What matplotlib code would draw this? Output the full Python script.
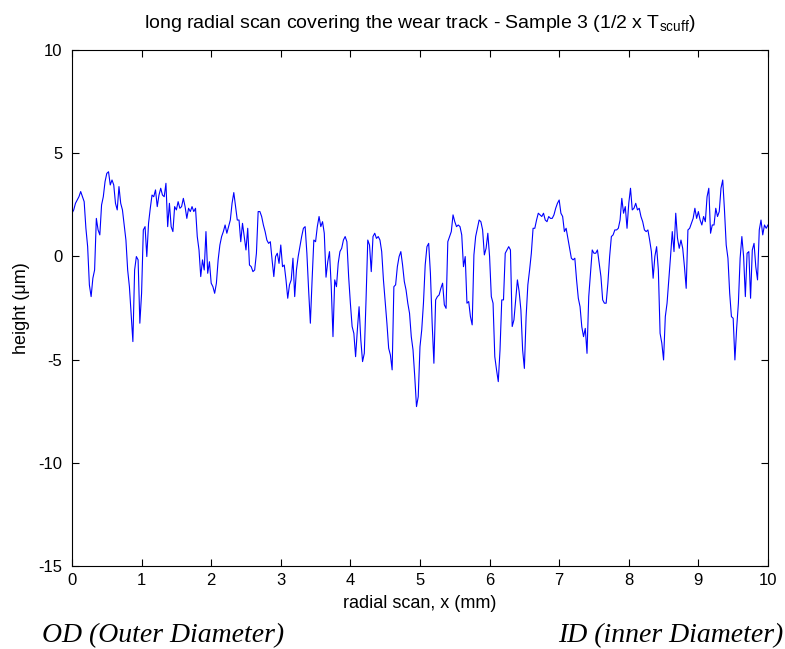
import numpy as np
import matplotlib
matplotlib.use("Agg")
import matplotlib.pyplot as plt

plt.rcParams['font.family'] = ['Liberation Sans', 'DejaVu Sans']
plt.rcParams['mathtext.fontset'] = 'custom'
plt.rcParams['mathtext.rm'] = 'Liberation Sans'
plt.rcParams['axes.unicode_minus'] = False

# profile heights (um), sampled every 0.025 mm from 0 to 10 mm
height_seg1 = [2.09, 2.25, 2.57, 2.73, 2.89, 3.14, 2.89, 2.65, 1.36, 0.47,
               -1.39, -1.95, -1.06, -0.66, 1.84, 1.28, 1.04, 2.49, 2.89, 3.62,
               4.02, 4.10, 3.46, 3.70, 3.46, 2.57, 2.25, 3.38, 2.57, 2.25,
               1.52, 0.79, -0.66, -1.47, -2.76, -4.13, -0.66, -0.01, -0.17, -3.24,
               -1.79, 1.28, 1.44, -0.01, 1.60, 2.33, 2.97, 2.89, 3.22, 2.41,
               2.97, 3.30, 2.97, 2.89, 3.54, 1.44, 2.57, 1.44, 1.20, 2.41,
               2.25, 2.65, 2.33, 2.41, 2.81, 2.41, 1.84]
height_seg2 = [2.33, 2.17, 2.41, 2.17, 2.33, 0.96, 0.31, -0.98, -0.17, -0.66,
               1.20, -0.82, -0.26, -1.30, -1.47, -1.79, -1.30, -0.17, 0.55, 0.96,
               1.20, 1.52, 1.12, 1.44, 1.76, 2.57, 3.09, 2.41, 1.76, 1.76,
               0.71, 1.60, 0.96, 0.31, 1.36, -0.42, -0.50, -0.74, -0.66, 0.15,
               2.17, 2.17, 1.93, 1.52, 1.20, 0.79, 0.63, 0.71, -0.17, -0.98,
               -0.01, 0.15, -0.34, 0.55, -0.50, -0.42, -1.14, -2.03, -1.38, -1.14,
               -0.09, -1.95, -0.66, -0.01, 0.47, 0.96, 1.36]
height_seg3 = [1.44, 0.15, -1.63, -3.24, -1.14, 0.79, 0.71, 1.44, 1.93, 1.44,
               1.68, 1.12, -1.01, -0.26, 0.23, -1.47, -3.89, -1.14, -1.47, -0.34,
               0.23, 0.39, 0.79, 0.96, 0.71, -0.98, -2.27, -3.40, -3.73, -4.86,
               -3.57, -2.44, -4.05, -5.10, -4.70, -2.11, 0.79, 0.55, -0.74, 0.96,
               1.12, 0.87, 0.96, 0.79, 0.23, -1.14, -2.19, -3.24, -4.45, -4.78,
               -5.50, -1.47, -1.38, -0.50, -0.01, 0.23, -0.42, -1.22, -1.63, -2.27,
               -2.76, -3.89, -4.53, -5.83, -7.28, -6.80, -4.38]
height_seg4 = [-3.57, -2.27, -0.42, 0.47, 0.63, -0.82, -3.24, -5.18, -2.11, -1.95,
               -1.87, -1.55, -1.30, -2.35, -2.52, 0.71, 0.96, 1.20, 2.01, 1.68,
               1.44, 1.52, 1.44, 1.04, -0.50, -0.01, -2.27, -2.19, -2.92, -3.32,
               0.07, 0.96, 1.36, 1.76, 1.68, 1.28, 0.07, 0.39, 1.12, -0.01,
               -1.95, -2.27, -4.86, -5.50, -6.07, -4.54, -2.11, -2.11, 0.15, 0.31,
               0.47, 0.31, -3.40, -3.08, -2.11, -1.14, -1.71, -2.60, -4.54, -5.43,
               -2.92, -1.38, -0.66, 0.15, 1.36, 1.36, 1.76]
height_seg5 = [2.09, 2.01, 1.93, 2.09, 1.76, 1.68, 1.93, 1.84, 1.84, 2.01,
               2.33, 2.57, 2.73, 2.09, 1.93, 1.20, 1.36, 0.88, 0.39, -0.09,
               -0.17, -0.09, -1.14, -2.03, -2.44, -3.41, -3.89, -3.49, -4.70, -1.95,
               -0.82, 0.31, 0.15, 0.15, 0.31, -0.34, -0.98, -2.11, -2.27, -2.27,
               -1.30, -0.01, 0.96, 1.04, 1.28, 1.28, 1.36, 1.76, 2.81, 2.09,
               2.41, 1.36, 2.57, 3.30, 2.25, 2.33, 2.57, 2.25, 2.33, 1.93,
               1.68, 1.28, 1.20, 1.28, 0.79, 0.23, -1.06]
height_seg6 = [0.00, 0.47, -0.66, -3.73, -4.21, -5.02, -2.92, -2.27, -1.14, -0.01,
               1.20, 0.23, 2.09, 0.88, 0.39, 0.79, 0.39, -0.50, -1.55, 1.28,
               1.36, 1.60, 1.84, 2.33, 1.84, 2.17, 1.76, 1.52, 1.93, 1.68,
               2.89, 3.30, 1.12, 1.52, 1.52, 2.33, 1.93, 2.17, 3.30, 3.70,
               2.25, 0.55, -0.09, -1.79, -2.92, -3.00, -5.02, -3.49, -2.27, -0.09,
               0.96, -0.01, -1.95, 0.15, 0.23, -2.03, 0.31, 0.63, -0.50, -1.14,
               1.28, 1.76, 1.04, 1.52, 1.36, 1.52]

height = np.array(height_seg1 + height_seg2 + height_seg3 +
                  height_seg4 + height_seg5 + height_seg6)
scan_x = np.linspace(0, 10, len(height))

x_ticks = list(range(0, 11))
y_ticks = [-15, -10, -5, 0, 5, 10]

fig = plt.figure(figsize=(7.85, 6.49), dpi=100)
ax = fig.add_axes([0.0917, 0.128, 0.8866, 0.795])

ax.plot(scan_x, height, color='#0000ff', linewidth=0.8)

ax.set_xlim(0, 10)
ax.set_ylim(-15, 10)
ax.set_xticks(x_ticks)
ax.set_yticks(y_ticks)
ax.tick_params(direction='in', top=True, right=True, length=5, width=0.8,
               labelsize=12)
ax.tick_params(axis='y', pad=7)
ax.tick_params(axis='x', pad=5)
for sp in ax.spines.values():
    sp.set_linewidth(0.8)

ax.set_xlabel('radial scan, x (mm)', fontsize=13, labelpad=5)
ax.set_ylabel('height (\u03bcm)', fontsize=13, labelpad=6)
ax.set_title(r'long radial scan covering the wear track - Sample 3 (1/2 x T$_{\mathrm{scuff}}$)',
             fontsize=14, pad=16)

fig.text(42 / 785, 1 - 636 / 649, 'OD (Outer Diameter)', fontsize=20,
         family='Liberation Serif', style='italic', ha='left', va='center')
fig.text(783 / 785, 1 - 636 / 649, 'ID (inner Diameter)', fontsize=20,
         family='Liberation Serif', style='italic', ha='right', va='center')

fig.savefig('out.png', dpi=100)
